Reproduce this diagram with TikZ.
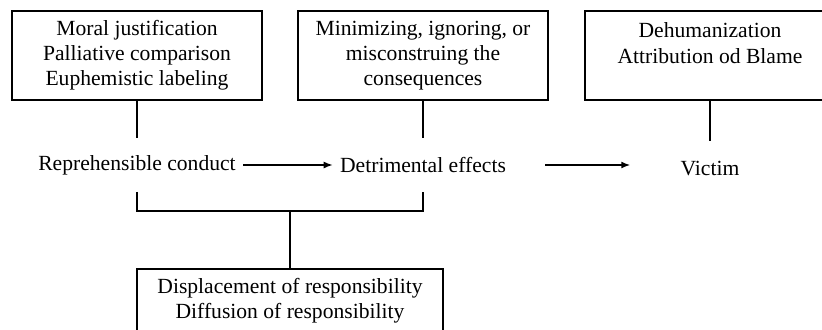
\documentclass[tikz,border=0pt]{standalone}
\usepackage{fontspec}
\setmainfont{Liberation Serif}
\usetikzlibrary{arrows.meta}

\begin{document}
\begin{tikzpicture}[x=0.5pt,y=-0.5pt,line width=0.75pt,
  every node/.style={font=\fontsize{10.8}{12.6}\selectfont,align=center},
  mechbox/.style={draw,rectangle,minimum width=125pt,minimum height=44.5pt},
  stagenode/.style={minimum height=26pt},
  flowarrow/.style={-{Latex[length=4.5pt,width=3.5pt]}}]
\useasboundingbox (0,0) rectangle (822,329);
% boxes on top
\node[mechbox] (justify) at (137,55.5) {Moral justification\\Palliative comparison\\Euphemistic labeling};
\node[mechbox] (minimize) at (423,55.5) {Minimizing, ignoring, or\\misconstruing the\\consequences};
\node[mechbox] (dehuman) at (710,55.5) {Dehumanization\\Attribution od Blame\\\mbox{}};
% stages
\node[stagenode] (conduct) at (137,165) {Reprehensible conduct};
\node[stagenode] (effects) at (423,165) {Detrimental effects};
\node[stagenode] (victim) at (710,168) {Victim};
% box below
\node[mechbox,minimum width=153pt,minimum height=32pt] (displace) at (290,301) {Displacement of responsibility\\Diffusion of responsibility};
\coordinate (bracket) at (290,211);
% connectors
\draw (justify.south) -- (justify.south |- conduct.north);
\draw (minimize.south) -- (minimize.south |- effects.north);
\draw (dehuman.south) -- (dehuman.south |- victim.north);
\draw[flowarrow] (conduct.east) -- (effects.west);
\draw[flowarrow,shorten <=16pt,shorten >=21.5pt] (effects.east) -- (effects.east -| victim.west);
\draw (conduct.south) |- (bracket) -| (effects.south);
\draw (bracket) -- (displace.north);
\end{tikzpicture}
\end{document}
